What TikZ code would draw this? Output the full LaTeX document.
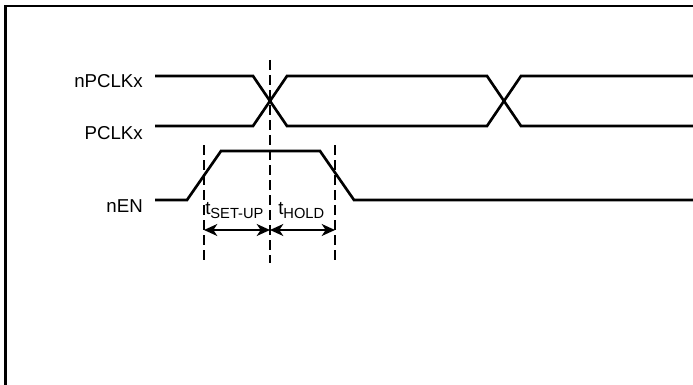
\documentclass[tikz,border=0pt]{standalone}
\usepackage{fontspec}
\setmainfont{Liberation Sans}
\usetikzlibrary{arrows.meta}

\tikzset{
  wave/.style={line width=2pt, line join=miter},
  guide/.style={line width=1.1pt, dash pattern=on 7.5pt off 3.75pt},
  span/.style={line width=1.2pt, {Stealth[length=10pt,width=9pt,inset=3pt]}-{Stealth[length=10pt,width=9pt,inset=3pt]}},
  sig/.style={anchor=base east, inner sep=0pt, font=\fontsize{14}{16}\selectfont},
  tlabel/.style={anchor=base west, inner sep=0pt, font=\fontsize{14}{16}\selectfont},
}
\newcommand{\tsub}[1]{t\raisebox{-3.5pt}{\fontsize{11}{13}\selectfont #1}}

\begin{document}
\begin{tikzpicture}[x=0.75pt,y=0.75pt,yscale=-1,xscale=1]
\useasboundingbox (0,0) rectangle (693,385);

%Frame
\draw [line width=1.9pt] (5.3,385) -- (5.3,6.2) -- (693,6.2) ;

%Signal names
\node [sig] (npclk) at (143,88) {nPCLKx};
\node [sig] (pclk) at (143,140) {PCLKx};
\node [sig] (nen) at (143,212.5) {nEN};

%nPCLKx
\draw [wave] (155,76) -- (253,76) -- (287,126) -- (487,126) -- (521,76) -- (693,76) ;
%PCLKx
\draw [wave] (155,126) -- (253,126) -- (287,76) -- (487,76) -- (521,126) -- (693,126) ;
%nEN
\draw [wave] (155,200) -- (187,200) -- (221,151) -- (320,151) -- (354,200) -- (693,200) ;

%Guides
\draw [guide] (270,60) -- (270,263) ;
\draw [guide] (204,145) -- (204,263) ;
\draw [guide] (335,145) -- (335,263) ;

%Timing spans
\coordinate (su) at (204,230);
\coordinate (edge) at (270,230);
\coordinate (ho) at (335,230);
\draw [span] (su) -- (edge) ;
\draw [span] (edge) -- (ho) ;

\node [tlabel] (tsu) at (205,214) {\tsub{SET-UP}};
\node [tlabel] (tho) at (278,214) {\tsub{HOLD}};

\end{tikzpicture}
\end{document}
